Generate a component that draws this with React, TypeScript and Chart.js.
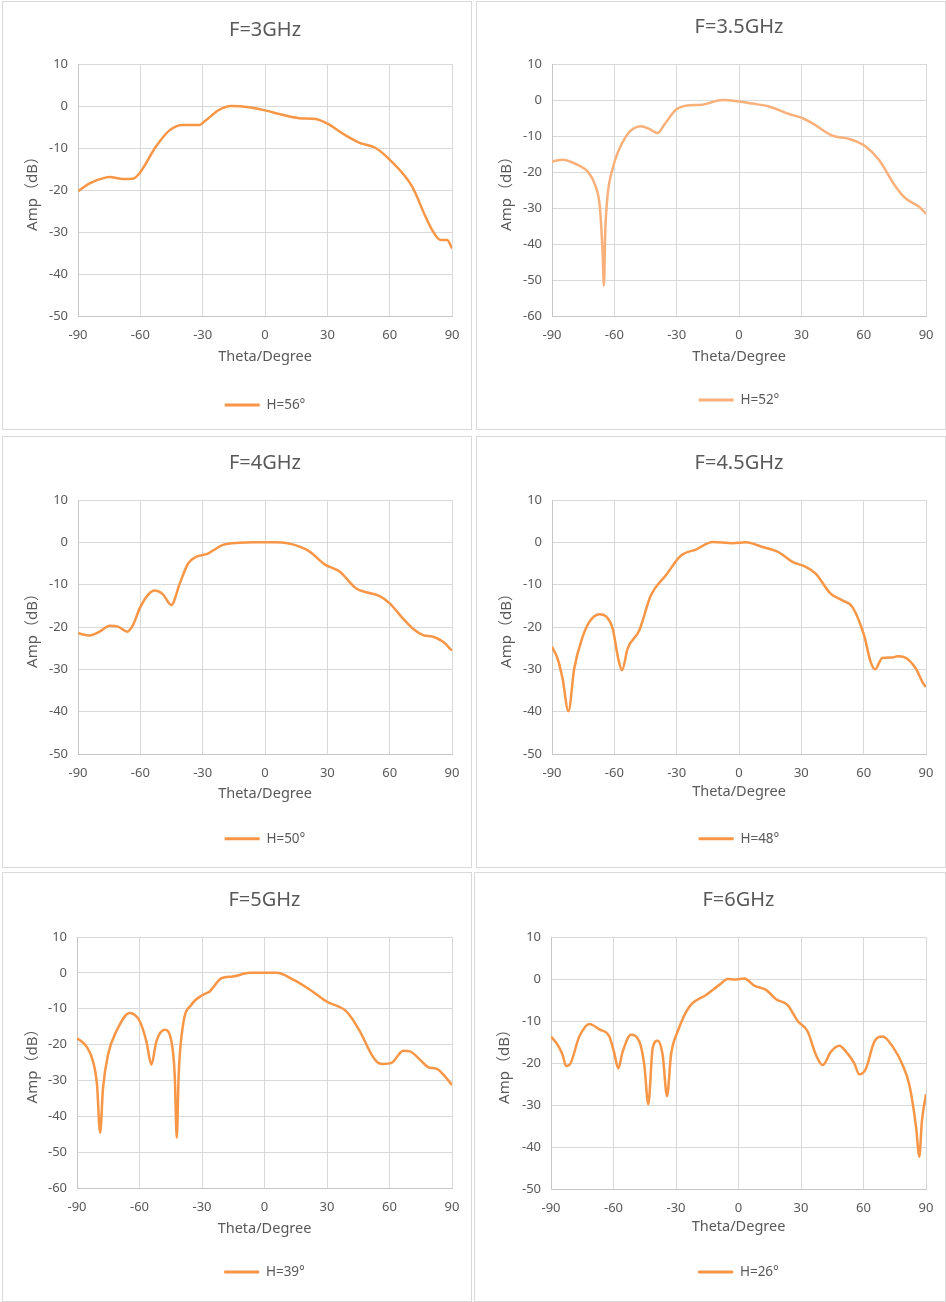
import { useEffect, useRef } from 'react'
import { Chart, registerables } from 'chart.js'

Chart.register(...registerables)

const FONT = '"Noto Sans", "Noto Sans CJK SC", sans-serif'
const TEXT = '#595959'
const GRID = '#D9D9D9'
const AXIS = '#C6C6C6'

// F=3GHz, H=56°
const theta3 = [-90, -84.4, -76.4, -74.8, -68.4, -63.6, -60.4, -52.4, -46, -39.6, -31.6, -29.2, -22, -16.4, -7.6, 0.4, 8.4, 16.4, 24.4, 30, 38.8, 45.2, 53.2, 59.6, 70.8, 77.2, 80.4, 84.4, 87.6, 90]
const amp3 = [-20.3, -18.4, -17.0, -16.9, -17.4, -17.3, -16.0, -9.6, -5.8, -4.5, -4.5, -3.7, -0.9, 0, -0.3, -1.1, -2.1, -2.9, -3.1, -4.2, -7.0, -8.7, -10.0, -12.6, -19.2, -26.3, -29.5, -31.9, -31.9, -33.9]

// F=3.5GHz, H=52°
const theta35 = [-90, -85, -77, -73, -69, -67, -65.7, -65, -64.4, -63.3, -61, -54.4, -47.2, -43.2, -39.2, -36, -30.4, -25.6, -17.6, -8, 0, 6.4, 14.4, 24, 30.4, 35.2, 44.9, 52.9, 60.9, 67.3, 75.3, 80.1, 86.5, 90]
const amp35 = [-17.1, -16.6, -18.2, -19.8, -24.0, -29.6, -41.6, -51.6, -37.0, -26.8, -19.4, -10.1, -7.3, -8.0, -9.2, -6.9, -2.7, -1.6, -1.3, 0, -0.4, -1.0, -1.8, -3.9, -5.0, -6.4, -9.9, -10.8, -12.9, -16.6, -24.0, -27.3, -29.6, -31.6]

// F=4GHz, H=50°
const theta4 = [-90, -84.4, -79.6, -74.8, -70.7, -66.3, -63.5, -60.3, -56.3, -53.1, -49.1, -45.1, -41, -37, -33, -28.2, -20.2, -12.2, -5.8, 5.5, 16.7, 21.5, 28.7, 35.9, 43.9, 48.8, 55.2, 60, 66.4, 71.2, 76.1, 80.9, 85.7, 90]
const amp4 = [-21.5, -22.0, -21.1, -19.7, -19.9, -21.1, -19.5, -15.6, -12.4, -11.4, -12.3, -14.8, -9.7, -5.0, -3.4, -2.8, -0.6, -0.1, 0, 0, -1.0, -2.2, -5.2, -6.9, -10.9, -11.8, -12.7, -14.4, -18.0, -20.4, -21.9, -22.3, -23.5, -25.6]

// F=4.5GHz, H=48°
const theta45 = [-90, -87.3, -84.9, -82.1, -79.3, -75.3, -72, -67.2, -64, -60.8, -58.1, -56.3, -53.6, -48, -42.4, -35.2, -27.9, -20.7, -12.7, -3.1, 3.3, 11.3, 19.3, 25.7, 32.1, 36.9, 44.1, 49.7, 54.6, 60.2, 63.4, 65.5, 69, 73.8, 76.3, 79.5, 85.1, 88.3, 90]
const amp45 = [-24.7, -27.5, -32.2, -39.9, -29.8, -22.4, -18.8, -17.0, -17.5, -20.4, -27.5, -30.2, -25.1, -20.8, -12.5, -7.8, -3.1, -1.7, 0.1, -0.2, 0, -1.1, -2.4, -4.6, -5.8, -7.4, -12.1, -13.7, -15.3, -22.0, -28.3, -30.0, -27.3, -27.2, -26.9, -27.1, -29.8, -33.0, -34.2]

// F=5GHz, H=39°
const theta5 = [-90, -85.5, -82.3, -80.4, -78.9, -77.5, -75.1, -71.1, -64.7, -59.9, -56.7, -54.3, -51.9, -47.9, -44.7, -43.1, -42.1, -41.2, -39.1, -35.1, -29.5, -26.3, -20.7, -15.1, -7, 5.8, 13.8, 21.8, 29.8, 39.4, 45.8, 51.4, 54.6, 57.1, 61, 66.6, 69.8, 74.6, 78.6, 82.7, 85.9, 90]
const amp5 = [-18.2, -20.5, -24.7, -31.2, -44.6, -32.1, -22.8, -16.3, -11.2, -13.5, -19.1, -25.6, -19.1, -15.9, -19.1, -28.4, -46.0, -28.4, -14.5, -8.9, -6.1, -5.2, -1.5, -1.0, 0, 0, -1.9, -4.7, -8.0, -10.8, -16.3, -22.8, -25.1, -25.4, -25.1, -21.7, -21.9, -24.2, -26.3, -26.8, -28.4, -31.3]

// F=6GHz, H=26°
const theta6 = [-90, -86.8, -84.4, -82.8, -81.2, -76.4, -71.6, -66.8, -62, -59.6, -57.7, -55.6, -51.6, -47.6, -45.2, -43.3, -41.2, -38.8, -36.4, -34.3, -32.4, -29.2, -23.6, -15.6, -9.2, -5.2, -1.2, 2.8, 7.6, 13.2, 18, 23.6, 28.4, 33.2, 37.2, 40.4, 44.4, 48.4, 51.6, 55.6, 58, 61.2, 65.2, 69.2, 74, 78.8, 82, 85.2, 86.8, 88, 90]
const amp6 = [-13.7, -15.7, -18.1, -20.7, -20.5, -13.7, -10.7, -12.0, -13.7, -17.7, -21.3, -17.3, -13.3, -14.9, -20.5, -29.8, -16.5, -14.7, -18.1, -27.9, -18.1, -12.5, -6.6, -3.8, -1.4, 0, -0.1, 0.1, -1.6, -2.6, -4.8, -6.2, -10.0, -12.5, -18.1, -20.5, -17.3, -15.9, -17.3, -20.1, -22.7, -21.3, -14.9, -13.7, -16.1, -20.5, -25.2, -35.1, -42.3, -34.0, -27.4]

const titles = ['F=3GHz', 'F=3.5GHz', 'F=4GHz', 'F=4.5GHz', 'F=5GHz', 'F=6GHz']
const legends = ['H=56°', 'H=52°', 'H=50°', 'H=48°', 'H=39°', 'H=26°']
const thetas = [theta3, theta35, theta4, theta45, theta5, theta6]
const amps = [amp3, amp35, amp4, amp45, amp5, amp6]
const yMins = [-50, -60, -50, -50, -60, -50]
const colors = ['#F79646', '#F9B07A', '#F79646', '#F79646', '#F79646', '#F79646']

// panel placement (page px) and where things sit inside each canvas
const boxes = [
  { left: 2, top: 1, width: 470, height: 429, cl: 75, cr: 450, ct: 62, cb: 314, ty: 28, xy: 354.7, ly: 403 },
  { left: 476, top: 1, width: 470, height: 429, cl: 75, cr: 450, ct: 62, cb: 314, ty: 25.7, xy: 354.7, ly: 398 },
  { left: 2, top: 436, width: 470, height: 432, cl: 75, cr: 449, ct: 63, cb: 317, ty: 26.7, xy: 356.7, ly: 401.7 },
  { left: 476, top: 436, width: 470, height: 432, cl: 75, cr: 449, ct: 63, cb: 317, ty: 26, xy: 355, ly: 401.7 },
  { left: 2, top: 872, width: 470, height: 430, cl: 74, cr: 449, ct: 64, cb: 315, ty: 27, xy: 355.7, ly: 399 },
  { left: 474, top: 872, width: 472, height: 430, cl: 76, cr: 451, ct: 64, cb: 316, ty: 27.3, xy: 354, ly: 399 },
]

function Panel({ i }: { i: number }) {
  const canvasRef = useRef<HTMLCanvasElement>(null)
  const b = boxes[i]
  const W = b.width - 2
  const H = b.height - 2

  useEffect(() => {
    if (!canvasRef.current) return
    const titleLh = 20 * 1.2
    const legendFont = 13.5
    const legendTop = b.ly - 10 - legendFont / 2
    const legendH = legendFont + 20
    const yLeft = 12
    const color = colors[i]

    const chart = new Chart(canvasRef.current, {
      type: 'line',
      data: {
        datasets: [
          {
            label: legends[i],
            data: thetas[i].map((t, k) => ({ x: t, y: amps[i][k] })),
            borderColor: color,
            backgroundColor: color,
            borderWidth: 2.5,
            pointRadius: 0,
            cubicInterpolationMode: 'monotone',
          },
        ],
      },
      options: {
        responsive: false,
        animation: false,
        devicePixelRatio: 1,
        layout: {
          padding: { top: 0, left: yLeft, right: W - b.cr, bottom: H - (legendTop + legendH) },
        },
        plugins: {
          title: {
            display: true,
            text: titles[i],
            fullSize: false,
            color: TEXT,
            font: { family: FONT, size: 20, weight: 'normal' },
            padding: { top: b.ty - titleLh / 2, bottom: b.ct - b.ty - titleLh / 2 },
          },
          legend: {
            display: true,
            position: 'bottom',
            fullSize: false,
            labels: {
              color: TEXT,
              font: { family: FONT, size: legendFont },
              boxWidth: 35,
              boxHeight: 3,
              padding: 10,
              generateLabels: (c: any) =>
                Chart.defaults.plugins.legend.labels
                  .generateLabels(c)
                  .map((l: any) => ({ ...l, lineWidth: 0, fillStyle: color, strokeStyle: color })),
            },
          },
          tooltip: { enabled: false },
        },
        scales: {
          x: {
            type: 'linear',
            min: -90,
            max: 90,
            afterFit: (s: any) => {
              s.height = legendTop - b.cb
            },
            ticks: { stepSize: 30, color: TEXT, padding: 11.5, font: { family: FONT, size: 13 } },
            grid: { color: GRID, drawTicks: false },
            border: { color: AXIS },
            title: {
              display: true,
              text: 'Theta/Degree',
              color: TEXT,
              font: { family: FONT, size: 14.5 },
              padding: { top: 0, bottom: legendTop - b.xy - 8.7 },
            },
          },
          y: {
            min: yMins[i],
            max: 10,
            afterFit: (s: any) => {
              s.width = b.cl - yLeft
            },
            ticks: { stepSize: 10, color: TEXT, padding: 10, font: { family: FONT, size: 13 } },
            grid: { color: GRID, drawTicks: false },
            border: { color: AXIS },
            title: {
              display: true,
              text: 'Amp（dB）',
              color: TEXT,
              font: { family: FONT, size: 15 },
              padding: { top: 9, bottom: 0 },
            },
          },
        },
      } as any,
    })
    return () => chart.destroy()
  }, [i])

  return (
    <div
      style={{
        position: 'absolute',
        left: b.left,
        top: b.top,
        width: b.width,
        height: b.height,
        boxSizing: 'border-box',
        border: '1px solid #D9D9D9',
        background: '#fff',
      }}
    >
      <canvas ref={canvasRef} width={W} height={H} style={{ display: 'block', width: W, height: H }} />
    </div>
  )
}

export default function App() {
  return (
    <div style={{ position: 'absolute', left: 0, top: 0, width: 946, height: 1302, background: '#fff' }}>
      {titles.map((_, i) => (
        <Panel key={i} i={i} />
      ))}
    </div>
  )
}
